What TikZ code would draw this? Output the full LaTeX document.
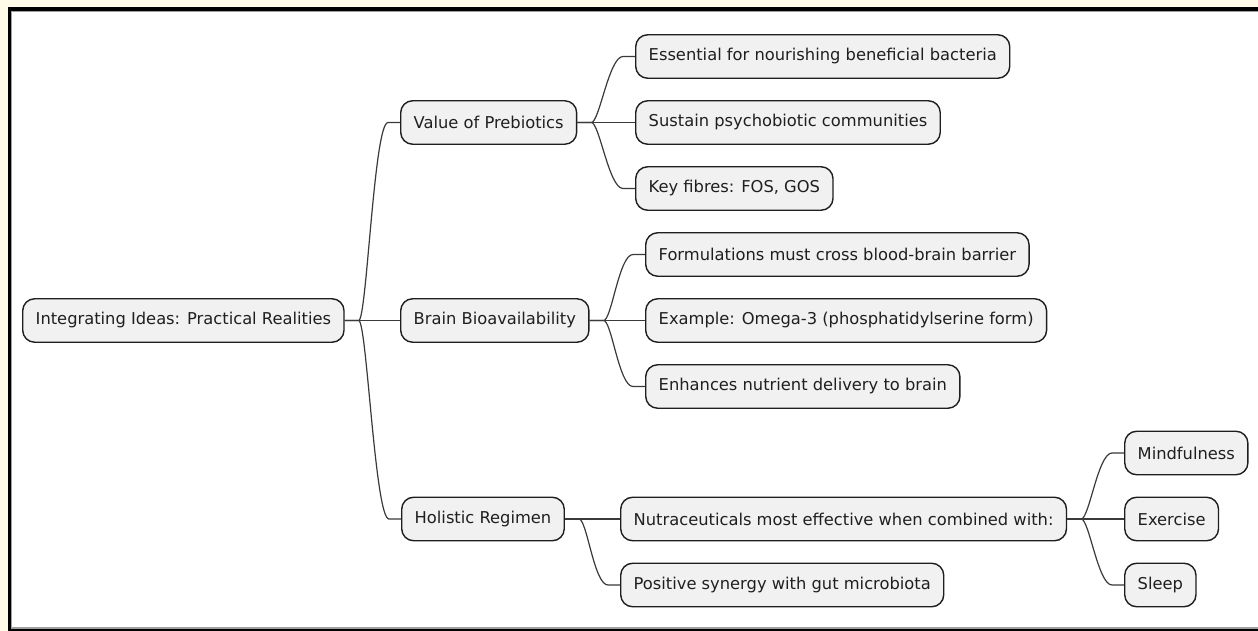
\documentclass[tikz,border=0pt]{standalone}
\usepackage{fontspec}
\setmainfont{DejaVu Sans}
\usetikzlibrary{calc}
\definecolor{cream}{HTML}{FFFBE8}
\definecolor{boxfill}{HTML}{F1F1F1}
\definecolor{boxline}{HTML}{1E1E1E}
\definecolor{linkcol}{HTML}{3A3A3A}
\tikzset{
  mmbox/.style={draw=boxline, fill=boxfill, line width=1.4pt, rounded corners=12pt,
    minimum height=43.5pt, inner xsep=13pt, inner ysep=0pt, anchor=west,
    font=\fontsize{16.3}{19}\selectfont, text=black!88},
  mmlinkstyle/.style={draw=linkcol, line width=1.2pt}
}
\newcommand\mmlink[2]{%
  \draw[mmlinkstyle] let \p1=(#1.east), \p2=(#2.west) in
    (\p1) -- (\x1+14,\y1) .. controls (\x1+22,\y1) and (\x2-26,\y2) .. (\x2-12,\y2) -- (\p2);}
\begin{document}
\begin{tikzpicture}[x=1pt,y=-1pt]
\useasboundingbox (0,0) rectangle (1258,631);
\fill[cream] (0,0) rectangle (1258,631);
\fill[black] (8,7) rectangle (1258,631);
\fill[gray!75] (11,11) rectangle (1258,628.5);
\fill[white] (12.2,12.2) rectangle (1258,627.3);

\node[mmbox] (root) at (22,320.5) {Integrating Ideas: Practical Realities};

\node[mmbox] (prebio) at (400,122.5) {Value of Prebiotics};
\node[mmbox] (brain) at (400,320.5) {Brain Bioavailability};
\node[mmbox] (holist) at (401,519) {Holistic Regimen};

\node[mmbox] (ess) at (635,56.5) {Essential for nourishing beneficial bacteria};
\node[mmbox] (sust) at (635,122.5) {Sustain psychobiotic communities};
\node[mmbox] (fib) at (635,188.5) {Key fibres: FOS, GOS};

\node[mmbox] (form) at (645,254.5) {Formulations must cross blood-brain barrier};
\node[mmbox] (omega) at (645,320.5) {Example: Omega-3 (phosphatidylserine form)};
\node[mmbox] (enh) at (645,386.5) {Enhances nutrient delivery to brain};

\node[mmbox] (nutra) at (620,519) {Nutraceuticals most effective when combined with:};
\node[mmbox] (syn) at (620,585) {Positive synergy with gut microbiota};

\node[mmbox] (mind) at (1124,453) {Mindfulness};
\node[mmbox] (exer) at (1124,519) {Exercise};
\node[mmbox] (sleep) at (1124,585) {Sleep};

\mmlink{root}{prebio}
\mmlink{root}{brain}
\mmlink{root}{holist}
\mmlink{prebio}{ess}
\mmlink{prebio}{sust}
\mmlink{prebio}{fib}
\mmlink{brain}{form}
\mmlink{brain}{omega}
\mmlink{brain}{enh}
\mmlink{holist}{nutra}
\mmlink{holist}{syn}
\mmlink{nutra}{mind}
\mmlink{nutra}{exer}
\mmlink{nutra}{sleep}
\end{tikzpicture}
\end{document}
